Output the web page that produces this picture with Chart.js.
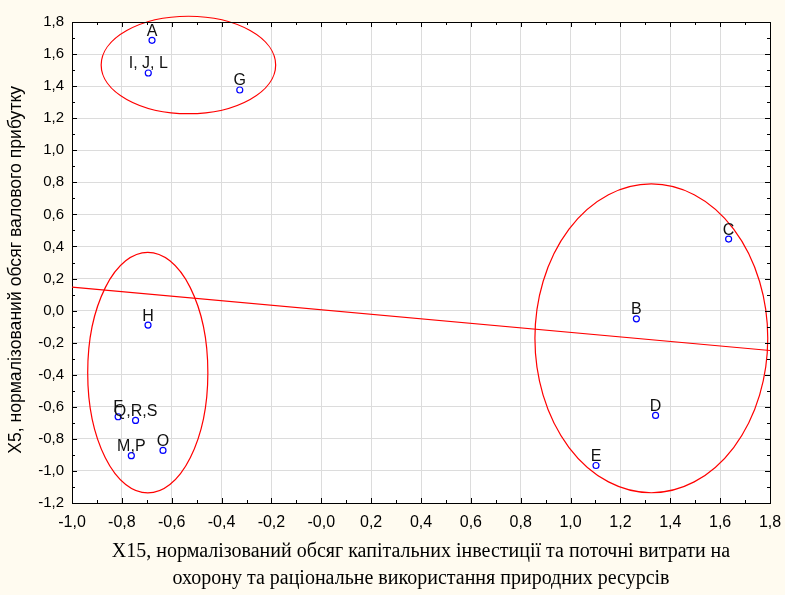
<!DOCTYPE html>
<html>
<head>
<meta charset="utf-8">
<script src="https://cdn.jsdelivr.net/npm/chart.js@4"></script>
<style>
  html, body { margin: 0; padding: 0; background: #fffbf0; }
  #wrap { width: 785px; height: 595px; }
</style>
</head>
<body>
<div id="wrap"><canvas id="scatter"></canvas></div>
<script>
// values
const pointLabels = ["A", "I, J, L", "G", "H", "F", "Q,R,S", "M,P", "O", "C", "B", "D", "E"];
const x15 = [-0.679, -0.694, -0.327, -0.695, -0.815, -0.745, -0.762, -0.635, 1.634, 1.264, 1.341, 1.102];
const x5 = [1.686, 1.482, 1.376, -0.090, -0.662, -0.685, -0.905, -0.872, 0.446, -0.051, -0.654, -0.966];

// fitted line, end points
const trendX = [-1.0, 1.8];
const trendY = [0.146, -0.249];

// cluster ellipses (centre and half axes, in data units)
const clusterCx = [-0.533, -0.696, 1.324];
const clusterCy = [1.532, -0.387, -0.173];
const clusterRx = [0.350, 0.241, 0.467];
const clusterRy = [0.304, 0.750, 0.963];

const xTitle = ["X15, нормалізований обсяг капітальних інвестиції та поточні витрати на",
                "охорону та раціональне використання природних ресурсів"];
const yTitle = "X5, нормалізований обсяг валового прибутку\u00a0\u00a0\u00a0";

function comma(v) {
    return Number(v).toFixed(1).replace(".", ",");
}

const frame = {
    id: "frame",
    beforeDraw(chart) {
        const c = chart.ctx, a = chart.chartArea;
        c.save();
        c.fillStyle = "#fffbf0";
        c.fillRect(0, 0, chart.width, chart.height);
        c.fillStyle = "#ffffff";
        c.fillRect(a.left, a.top, a.right - a.left, a.bottom - a.top);
        c.restore();
    },
    afterDatasetsDraw(chart) {
        const c = chart.ctx, a = chart.chartArea;
        const xs = chart.scales.x, ys = chart.scales.y;

        // ellipses
        c.save();
        c.strokeStyle = "#ff0000";
        c.lineWidth = 1.2;
        for (let i = 0; i < clusterCx.length; i++) {
            const cx = xs.getPixelForValue(clusterCx[i]);
            const cy = ys.getPixelForValue(clusterCy[i]);
            const rx = Math.abs(xs.getPixelForValue(clusterCx[i] + clusterRx[i]) - cx);
            const ry = Math.abs(ys.getPixelForValue(clusterCy[i] + clusterRy[i]) - cy);
            c.beginPath();
            c.ellipse(cx, cy, rx, ry, 0, 0, Math.PI * 2);
            c.stroke();
        }
        c.restore();

        // point labels
        const meta = chart.getDatasetMeta(0);
        c.save();
        c.fillStyle = "#111";
        c.font = "16px 'Liberation Sans', Arial, sans-serif";
        c.textAlign = "center";
        c.textBaseline = "alphabetic";
        meta.data.forEach((p, i) => {
            c.fillText(pointLabels[i], p.x, p.y - 4.5);
        });
        c.restore();

        // top / right border and inner ticks
        c.save();
        c.strokeStyle = "#000";
        c.lineWidth = 1;
        c.beginPath();
        c.moveTo(a.left, a.top + 0.5);
        c.lineTo(a.right + 0.5, a.top + 0.5);
        c.lineTo(a.right + 0.5, a.bottom);
        c.stroke();

        const xv = xs.ticks.map(t => t.value);
        const yv = ys.ticks.map(t => t.value);
        c.beginPath();
        xv.forEach((v, i) => {
            const px = Math.round(xs.getPixelForValue(v)) + 0.5;
            c.moveTo(px, a.bottom); c.lineTo(px, a.bottom - 5);
            c.moveTo(px, a.top); c.lineTo(px, a.top + 5);
            if (i < xv.length - 1) {
                const mx = Math.round(xs.getPixelForValue((v + xv[i + 1]) / 2)) + 0.5;
                c.moveTo(mx, a.bottom); c.lineTo(mx, a.bottom - 3);
                c.moveTo(mx, a.top); c.lineTo(mx, a.top + 3);
            }
        });
        yv.forEach((v, i) => {
            const py = Math.round(ys.getPixelForValue(v)) + 0.5;
            c.moveTo(a.left, py); c.lineTo(a.left + 5, py);
            c.moveTo(a.right, py); c.lineTo(a.right - 5, py);
            if (i < yv.length - 1) {
                const my = Math.round(ys.getPixelForValue((v + yv[i + 1]) / 2)) + 0.5;
                c.moveTo(a.left, my); c.lineTo(a.left + 3, my);
                c.moveTo(a.right, my); c.lineTo(a.right - 3, my);
            }
        });
        c.stroke();
        c.restore();
    }
};

const points = x15.map((v, i) => ({ x: v, y: x5[i] }));
const trend = trendX.map((v, i) => ({ x: v, y: trendY[i] }));

new Chart(document.getElementById("scatter"), {
    type: "scatter",
    data: {
        datasets: [
            {
                data: points,
                pointStyle: "circle",
                pointRadius: 3,
                pointBorderWidth: 1.2,
                pointBorderColor: "#0000ff",
                pointBackgroundColor: "#ffffff",
                order: 0
            },
            {
                type: "line",
                data: trend,
                borderColor: "#ff0000",
                borderWidth: 1.2,
                pointRadius: 0,
                fill: false,
                order: 1
            }
        ]
    },
    options: {
        responsive: true,
        maintainAspectRatio: false,
        animation: false,
        layout: { padding: { top: 22, right: 15, left: 0, bottom: 0 } },
        plugins: {
            legend: { display: false },
            tooltip: { enabled: false }
        },
        scales: {
            x: {
                type: "linear",
                min: -1.0,
                max: 1.8,
                afterFit(s) { s.height = 92; s.paddingLeft = 0; s.paddingRight = 0; },
                ticks: {
                    stepSize: 0.2,
                    padding: 10,
                    color: "#000",
                    font: { family: "'Liberation Sans', Arial, sans-serif", size: 16 },
                    callback: v => comma(v)
                },
                grid: { color: "#dcdcdc", drawTicks: false },
                border: { color: "#000" },
                title: {
                    display: true,
                    text: xTitle,
                    color: "#000",
                    font: { family: "'Liberation Serif', 'Times New Roman', serif", size: 20, lineHeight: 27 / 20 },
                    padding: { top: 0, bottom: 3 }
                }
            },
            y: {
                type: "linear",
                min: -1.2,
                max: 1.8,
                afterFit(s) { s.width = 72; s.paddingTop = 0; s.paddingBottom = 0; },
                ticks: {
                    stepSize: 0.2,
                    padding: 8,
                    color: "#000",
                    font: { family: "'Liberation Sans', Arial, sans-serif", size: 15 },
                    callback: v => comma(v)
                },
                grid: { color: "#dcdcdc", drawTicks: false },
                border: { color: "#000" },
                title: {
                    display: true,
                    text: yTitle,
                    color: "#000",
                    font: { family: "'Liberation Sans', Arial, sans-serif", size: 17.6 },
                    padding: { top: 6, bottom: 0 }
                }
            }
        }
    },
    plugins: [frame]
});
</script>
</body>
</html>
